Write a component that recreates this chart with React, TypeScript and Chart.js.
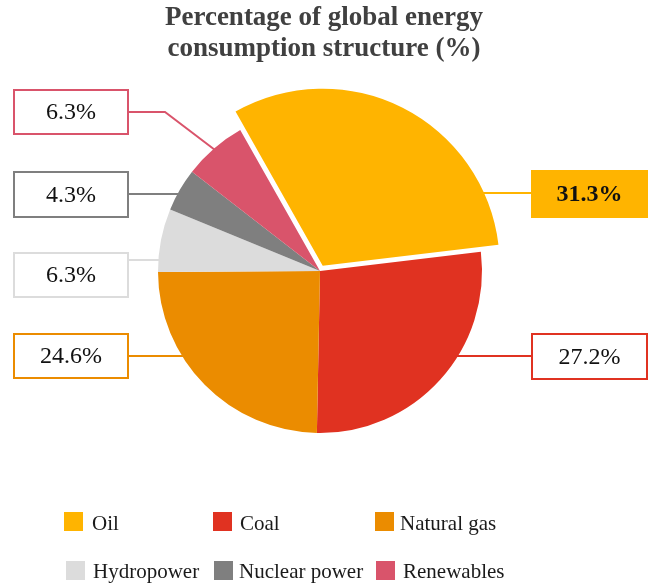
import React, { useEffect, useRef } from 'react';
import { Chart, registerables } from 'chart.js';

Chart.register(...registerables);

// ---- data ----
const categories = ['Oil', 'Coal', 'Natural gas', 'Hydropower', 'Nuclear power', 'Renewables'];
const shares = [31.3, 27.2, 24.6, 6.3, 4.3, 6.3];
const colors = ['#FFB400', '#E03221', '#EB8C00', '#DCDCDC', '#7F7F7F', '#D9546B'];
const titleLines = ['Percentage of global energy', 'consumption structure (%)'];

// ---- layout (positions / styles only) ----
const W = 653;
const H = 586;
const OIL_SHIFT = 6;
const OIL_GROW = 15;
const SERIF = '"Liberation Serif", "Times New Roman", serif';

type LabelBox = { side: 'left' | 'right'; x: number; y: number; w: number; h: number; lineY: number; elbowX?: number; highlight?: boolean };
const labelBoxes: LabelBox[] = [
  { side: 'right', x: 532, y: 171, w: 115, h: 46, lineY: 193, highlight: true },
  { side: 'right', x: 532, y: 334, w: 115, h: 45, lineY: 356 },
  { side: 'left', x: 14, y: 334, w: 114, h: 44, lineY: 356 },
  { side: 'left', x: 14, y: 253, w: 114, h: 44, lineY: 260 },
  { side: 'left', x: 14, y: 172, w: 114, h: 45, lineY: 194 },
  { side: 'left', x: 14, y: 90, w: 114, h: 44, lineY: 112, elbowX: 165 },
];

const legendSlots = [
  { bx: 64, by: 512, tx: 92, ty: 530 },
  { bx: 213, by: 512, tx: 240, ty: 530 },
  { bx: 375, by: 512, tx: 400, ty: 530 },
  { bx: 66, by: 561, tx: 93, ty: 578 },
  { bx: 214, by: 561, tx: 239, ty: 578 },
  { bx: 376, by: 561, tx: 403, ty: 578 },
];

const customPlugin = {
  id: 'customPie',
  beforeDatasetsDraw(chart: any) {
    const arc = chart.getDatasetMeta(0).data[0];
    if (arc && !arc.__adjusted) {
      const mid = (arc.startAngle + arc.endAngle) / 2;
      arc.x += Math.cos(mid) * OIL_SHIFT;
      arc.y += Math.sin(mid) * OIL_SHIFT;
      arc.outerRadius += OIL_GROW;
      arc.__adjusted = true;
    }
  },
  afterDraw(chart: any) {
    const ctx: CanvasRenderingContext2D = chart.ctx;
    const arcs = chart.getDatasetMeta(0).data;

    // title
    ctx.save();
    ctx.fillStyle = '#404040';
    ctx.font = `bold 27px ${SERIF}`;
    ctx.textAlign = 'center';
    ctx.textBaseline = 'alphabetic';
    ctx.fillText(titleLines[0], 324, 25);
    ctx.fillText(titleLines[1], 324, 56);
    ctx.restore();

    // leader lines + label boxes
    shares.forEach((v, i) => {
      const arc = arcs[i];
      const b = labelBoxes[i];
      const color = colors[i];
      const r = arc.outerRadius;
      ctx.save();
      ctx.strokeStyle = color;
      ctx.lineWidth = 2;
      ctx.beginPath();
      const startX = b.side === 'left' ? b.x + b.w : b.x;
      if (b.elbowX !== undefined) {
        const mid = (arc.startAngle + arc.endAngle) / 2;
        const px = arc.x + Math.cos(mid) * (r - 3);
        const py = arc.y + Math.sin(mid) * (r - 3);
        ctx.moveTo(startX, b.lineY);
        ctx.lineTo(b.elbowX, b.lineY);
        ctx.lineTo(px, py);
      } else {
        const dy = b.lineY - arc.y;
        const dx = Math.sqrt(Math.max(r * r - dy * dy, 0)) - 2;
        const ex = b.side === 'left' ? arc.x - dx : arc.x + dx;
        ctx.moveTo(startX, b.lineY);
        ctx.lineTo(ex, b.lineY);
      }
      ctx.stroke();

      ctx.fillStyle = b.highlight ? color : '#ffffff';
      ctx.fillRect(b.x, b.y, b.w, b.h);
      ctx.strokeRect(b.x, b.y, b.w, b.h);

      ctx.fillStyle = '#111111';
      ctx.font = `${b.highlight ? 'bold ' : ''}24px ${SERIF}`;
      ctx.textAlign = 'center';
      ctx.textBaseline = 'middle';
      ctx.fillText(v.toFixed(1) + '%', b.x + b.w / 2, b.y + b.h / 2 + 1);
      ctx.restore();
    });

    // legend
    ctx.save();
    ctx.font = `21px ${SERIF}`;
    ctx.textAlign = 'left';
    ctx.textBaseline = 'alphabetic';
    categories.forEach((c, i) => {
      const s = legendSlots[i];
      ctx.fillStyle = colors[i];
      ctx.fillRect(s.bx, s.by, 19, 19);
      ctx.fillStyle = '#1a1a1a';
      ctx.fillText(c, s.tx, s.ty);
    });
    ctx.restore();
  },
};

export default function App() {
  const ref = useRef<HTMLCanvasElement | null>(null);

  useEffect(() => {
    if (!ref.current) return;
    const chart = new Chart(ref.current, {
      type: 'pie',
      data: {
        labels: categories,
        datasets: [
          {
            data: shares,
            backgroundColor: colors,
            borderWidth: 0,
            hoverOffset: 0,
          },
        ],
      },
      options: {
        responsive: false,
        animation: false,
        events: [],
        rotation: -29.5,
        layout: { padding: { left: 158, right: 171, top: 109, bottom: 153 } },
        plugins: {
          legend: { display: false },
          title: { display: false },
          tooltip: { enabled: false },
        },
      },
      plugins: [customPlugin],
    });
    return () => chart.destroy();
  }, []);

  return (
    <div style={{ position: 'absolute', left: 0, top: 0, width: W, height: H, background: '#fff' }}>
      <canvas ref={ref} width={W} height={H} style={{ display: 'block', width: W, height: H }} />
    </div>
  );
}
